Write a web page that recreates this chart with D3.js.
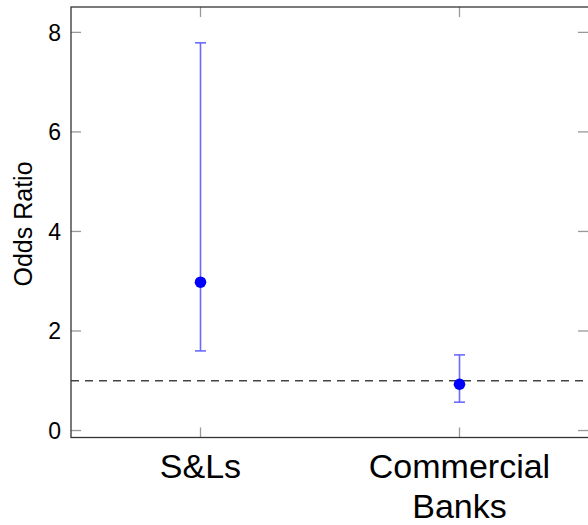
<!DOCTYPE html>
<html>
<head>
<meta charset="utf-8">
<script src="https://cdn.jsdelivr.net/npm/d3@7"></script>
<style>
  body { margin: 0; background: #fff; }
  svg text { font-family: "Liberation Sans", sans-serif; fill: #000; }
</style>
</head>
<body>
<div id="chart"></div>
<script>
'use strict';

const groups = ["S&Ls", "Commercial Banks"];
const oddsRatio = [2.98, 0.93];
const ciLow = [1.60, 0.57];
const ciHigh = [7.79, 1.52];
const yTicks = [0, 2, 4, 6, 8];
const refLine = 1;

const m = { width: 588, height: 525, left: 71, right: 589, top: 7, bottom: 437.5 };

const svg = d3.select('#chart').append('svg')
  .attr('width', m.width)
  .attr('height', m.height);

const x = d3.scalePoint()
  .domain(groups)
  .range([m.left, m.right])
  .padding(0.5);

const y = d3.scaleLinear()
  .domain([-0.14, 8.51])
  .range([m.bottom, m.top]);

// ticks (inside, on both sides)
const tickLen = 10;
svg.append('g').selectAll('line')
  .data(yTicks)
  .enter().append('line')
  .attr('x1', m.left).attr('x2', m.left + tickLen)
  .attr('y1', d => y(d)).attr('y2', d => y(d))
  .attr('stroke', '#999').attr('stroke-width', 1.3);
svg.append('g').selectAll('line')
  .data(yTicks)
  .enter().append('line')
  .attr('x1', m.right - tickLen - 1).attr('x2', m.right)
  .attr('y1', d => y(d)).attr('y2', d => y(d))
  .attr('stroke', '#999').attr('stroke-width', 1.3);
svg.append('g').selectAll('line')
  .data(groups)
  .enter().append('line')
  .attr('x1', d => x(d)).attr('x2', d => x(d))
  .attr('y1', m.bottom).attr('y2', m.bottom - tickLen)
  .attr('stroke', '#999').attr('stroke-width', 1.3);
svg.append('g').selectAll('line')
  .data(groups)
  .enter().append('line')
  .attr('x1', d => x(d)).attr('x2', d => x(d))
  .attr('y1', m.top).attr('y2', m.top + tickLen)
  .attr('stroke', '#999').attr('stroke-width', 1.3);

// y tick labels
svg.append('g').selectAll('text')
  .data(yTicks)
  .enter().append('text')
  .attr('x', 61)
  .attr('y', d => y(d))
  .attr('dy', '0.36em')
  .attr('text-anchor', 'end')
  .style('font-size', '23px')
  .text(d => d);

// x labels (wrapped)
svg.append('g').selectAll('text')
  .data(groups)
  .enter().append('text')
  .attr('x', d => x(d))
  .attr('y', 478)
  .attr('text-anchor', 'middle')
  .style('font-size', '34px')
  .each(function(d) {
    const words = d === "Commercial Banks" ? ["Commercial", "Banks"] : [d];
    d3.select(this).selectAll('tspan')
      .data(words)
      .enter().append('tspan')
      .attr('x', x(d))
      .attr('dy', (w, i) => i === 0 ? 0 : 40)
      .text(w => w);
  });

// y axis label
svg.append('text')
  .attr('transform', 'translate(32, 224) rotate(-90)')
  .attr('text-anchor', 'middle')
  .style('font-size', '25px')
  .text('Odds Ratio');

// reference line
svg.append('line')
  .attr('x1', m.left).attr('x2', m.right)
  .attr('y1', y(refLine)).attr('y2', y(refLine))
  .attr('stroke', '#444').attr('stroke-width', 1.3)
  .attr('stroke-dasharray', '8,6');

// error bars
const bars = svg.append('g');
groups.forEach((g, i) => {
  bars.append('line')
    .attr('x1', x(g)).attr('x2', x(g))
    .attr('y1', y(ciLow[i])).attr('y2', y(ciHigh[i]))
    .attr('stroke', '#6a6aff').attr('stroke-width', 1.6);
  [ciLow[i], ciHigh[i]].forEach(v => {
    bars.append('line')
      .attr('x1', x(g) - 5.5).attr('x2', x(g) + 5.5)
      .attr('y1', y(v)).attr('y2', y(v))
      .attr('stroke', '#6a6aff').attr('stroke-width', 1.6);
  });
});

svg.append('g').selectAll('circle')
  .data(groups)
  .enter().append('circle')
  .attr('cx', d => x(d))
  .attr('cy', (d, i) => y(oddsRatio[i]))
  .attr('r', 5.8)
  .attr('fill', '#0000ff');

// frame
svg.append('rect')
  .attr('x', m.left).attr('y', m.top)
  .attr('width', m.right - m.left).attr('height', m.bottom - m.top)
  .attr('fill', 'none')
  .attr('stroke', '#333').attr('stroke-width', 1.3);
</script>
</body>
</html>
